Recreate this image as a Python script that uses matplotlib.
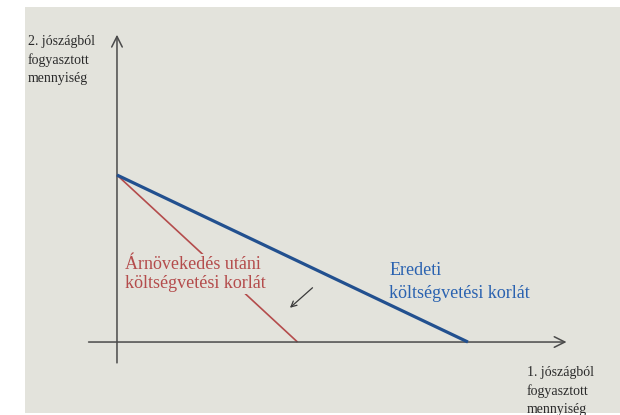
import matplotlib
matplotlib.use("Agg")
import matplotlib.pyplot as plt
from matplotlib.patches import Rectangle

# budget constraint intercepts (good 1 on x, good 2 on y)
good2_max = [10.0, 10.0]            # same y-intercept for both lines
good1_max = [21.0, 10.8]            # original, after price increase
line_names = ["Eredeti\nköltségvetési korlát",
              "Árnövekedés utáni\nköltségvetési korlát"]
line_colors = ["#22508f", "#b44c4c"]

BG = "#e3e3dc"
AXIS = "#4a4a4a"
SERIF = ["Liberation Serif", "DejaVu Serif"]


def main():
    fig = plt.figure(figsize=(6.2, 4.15), dpi=100)
    fig.patch.set_facecolor("white")
    # photographed slide area
    fig.patches.append(Rectangle((0.04, 0.005), 0.96, 0.978, transform=fig.transFigure,
                                 facecolor=BG, edgecolor="none", zorder=-10))

    ax = fig.add_axes([0, 0, 1, 1])
    ax.set_xlim(-7.0, 30.1)
    ax.set_ylim(-4.37, 20.48)
    ax.patch.set_alpha(0)
    ax.axis("off")

    arrow = dict(arrowstyle="->", color=AXIS, lw=1.1, mutation_scale=19, shrinkA=0, shrinkB=0)
    ax.annotate("", xy=(26.9, 0), xytext=(-1.7, 0), arrowprops=arrow)
    ax.annotate("", xy=(0, 18.4), xytext=(0, -1.25), arrowprops=arrow)

    # original budget line (blue, thick)
    ax.plot([0, good1_max[0]], [good2_max[0], 0], color=line_colors[0], lw=2.3,
            solid_capstyle="butt", zorder=3)
    # after price increase (red, thin)
    ax.plot([0, good1_max[1]], [good2_max[1], 0], color=line_colors[1], lw=1.2,
            solid_capstyle="butt", zorder=2)

    ax.text(0.5, 4.07, line_names[1], color=line_colors[1], fontsize=13, family=SERIF,
            va="center", ha="left", linespacing=1.2, zorder=4,
            bbox=dict(facecolor=BG, edgecolor="none", pad=1))
    ax.text(16.3, 3.6, line_names[0], color="#2a62b0", fontsize=13, family=SERIF,
            va="center", ha="left", linespacing=1.5, zorder=4)

    # shift arrow
    ax.annotate("", xy=(10.35, 2.05), xytext=(11.7, 3.25),
                arrowprops=dict(arrowstyle="->", color="#3a3a3a", lw=0.9,
                                mutation_scale=10, shrinkA=0, shrinkB=0))

    fig.text(28 / 620, 1 - 60 / 415, "2. jószágból\nfogyasztott\nmennyiség", fontsize=10,
             family=SERIF, color="#2a2a2a", va="center", ha="left", linespacing=1.45)
    fig.text(527 / 620, 1 - 391 / 415, "1. jószágból\nfogyasztott\nmennyiség", fontsize=10,
             family=SERIF, color="#2a2a2a", va="center", ha="left", linespacing=1.45)

    fig.savefig("out.png", dpi=100, facecolor=fig.get_facecolor())


if __name__ == "__main__":
    main()
